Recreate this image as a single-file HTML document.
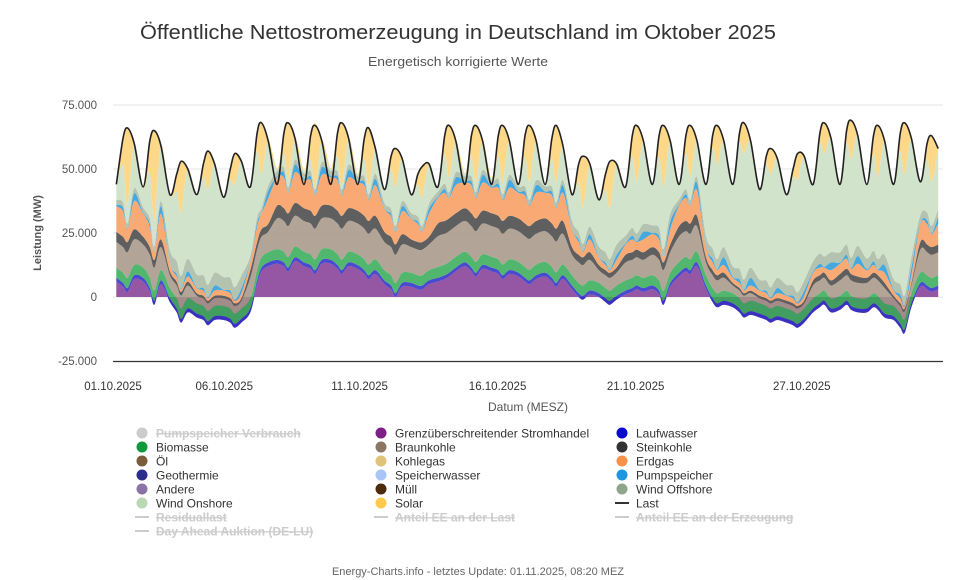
<!DOCTYPE html>
<html><head><meta charset="utf-8">
<style>
body{margin:0;background:#fff;font-family:"Liberation Sans",sans-serif;}
svg{display:block}
</style></head>
<body>
<svg id="chart" width="957" height="580" xmlns="http://www.w3.org/2000/svg" font-family="Liberation Sans, sans-serif">
<text x="458" y="39" text-anchor="middle" font-size="20" fill="#333" textLength="636" lengthAdjust="spacingAndGlyphs">Öffentliche Nettostromerzeugung in Deutschland im Oktober 2025</text>
<text x="458" y="66" text-anchor="middle" font-size="13" fill="#555" textLength="180" lengthAdjust="spacingAndGlyphs">Energetisch korrigierte Werte</text>
<g id="grid"></g>
<g id="areas"></g>
<g id="lines"></g>
<g id="axes"></g>
<text transform="translate(41,233) rotate(-90)" text-anchor="middle" font-size="11" font-weight="bold" fill="#555">Leistung (MW)</text>
<text x="528" y="411" text-anchor="middle" font-size="12" fill="#555">Datum (MESZ)</text>
<g id="legend"></g>
<text x="478" y="575" text-anchor="middle" font-size="11" fill="#666">Energy-Charts.info - letztes Update: 01.11.2025, 08:20 MEZ</text>
</svg>
<script>
// sample hours within each day (time data)
const sampleHours = [3, 9, 13, 19];
const yTicks = [75000, 50000, 25000, 0, -25000];
const yTickLabels = ["75.000", "50.000", "25.000", "0", "-25.000"];
const xTickLabels = ["01.10.2025", "06.10.2025", "11.10.2025", "16.10.2025", "21.10.2025", "27.10.2025"];
const xTickDays = [0.0, 4.15, 9.2, 14.35, 19.5, 25.7];
// GW values, 4 samples per day (3h, 9h, 13h, 19h)
const load = [
44,62,66,60, 43,61,65,59, 40,48,53,50, 40,52,57,52, 39,50,56,53,
43,64,68,61, 44,64,68,62, 44,63,67,61, 44,64,68,62, 44,62,66,58,
42,55,58,54, 40,48,51,52, 43,63,67,61, 44,63,67,61, 44,63,67,61,
44,63,67,61, 44,62,67,59, 40,52,55,52, 38,48,53,52, 43,63,67,61,
44,63,67,61, 44,63,67,61, 44,63,67,61, 44,64,68,61, 42,55,58,54,
40,50,56,55, 44,64,68,62, 44,65,69,63, 44,63,67,61, 44,64,68,62,
45,60,63,58];
const crossBorder = [
6,4,2,7, 6,2,-3,5, -2,-6,-10,-6, -8,-9,-11,-9, -9,-10,-12,-10,
-6,5,10,12, 13,12,10,14, 12,11,9,13, 13,11,9,12, 11,9,7,9,
5,3,0,4, 4,3,3,5, 6,7,8,10, 12,10,8,11, 10,9,7,9,
8,6,5,7, 8,6,4,7, 3,0,-1,1, 0,-2,-3,-1, 1,2,3,2,
3,1,-3,4, 8,10,9,12, 3,-2,-4,-3, -4,-6,-8,-7, -8,-9,-10,-9,
-10,-11,-12,-10, -6,-4,-3,-6, -5,-3,-5,-6, -6,-4,-5,-8, -9,-12,-14,-4,
4,3,2,3];
const erdgas = [
10,10,5,11, 9,8,3,10, 3,2,1,2, 2,2,1,2, 2,2,1,2,
3,6,6,10, 11,12,8,12, 11,12,8,12, 11,12,8,12, 11,12,8,12,
9,8,5,9, 8,7,4,9, 10,11,8,11, 10,11,8,11, 10,11,8,11,
10,11,8,11, 10,11,8,11, 7,5,2,5, 3,2,1,3, 4,5,3,5,
5,5,2,6, 8,9,7,10, 4,3,2,3, 2,2,1,2, 2,2,1,2,
2,2,1,2, 3,3,2,4, 4,4,2,5, 3,3,2,4, 2,2,1,3,
7,8,5,8];
const pumpspeicher = [
0.5,1.5,0.3,3, 0.5,1.2,0.3,3, 0.3,1,0.3,2, 0.3,1,0.3,2, 0.3,1,0.3,2,
0.5,1.5,0.3,3, 0.5,2,0.3,3, 0.5,1.5,0.3,3, 0.5,1.5,0.3,3, 0.5,1.5,0.3,2.5,
0.3,1,0.3,2, 0.3,1,0.3,2, 0.5,1.5,0.3,3, 0.5,1.5,0.3,3, 0.5,1.5,0.3,3,
0.5,1.5,0.3,3, 0.5,1.5,0.3,3, 0.3,1,0.3,2, 0.3,1,0.3,2, 0.5,1.5,0.3,3,
0.5,1.5,0.3,3, 0.5,1.5,0.3,3, 0.5,1.5,0.3,3, 0.5,1.5,0.3,3, 0.3,1,0.3,2,
0.3,1,0.3,2, 0.5,1.5,0.3,3, 0.5,1.5,0.3,3, 0.5,1.5,0.3,3, 0.5,1.5,0.3,3,
0.5,1.5,0.3,3];
const solar = [
0,10,30,0, 0,12,35,0, 0,7,20,0, 0,5,15,0, 0,4,12,0,
0,7,20,0, 0,8,22,0, 0,9,25,0, 0,9,25,0, 0,8,22,0,
0,5,15,0, 0,4,12,0, 0,7,20,0, 0,8,22,0, 0,8,22,0,
0,8,22,0, 0,8,22,0, 0,7,20,0, 0,6,18,0, 0,8,22,0,
0,8,24,0, 0,7,20,0, 0,5,15,0, 0,4,12,0, 0,3,10,0,
0,3,10,0, 0,4,12,0, 0,5,15,0, 0,7,20,0, 0,7,20,0,
0,6,18,0];
// daily values (GW)
const laufwasser = [1.5,1.5,1.5,1.5,1.5,1.5,1.5,1.5,1.5,1.5,1.5,1.5,1.5,1.5,1.5,1.5,1.5,1.5,1.5,1.5,1.5,1.5,1.5,1.5,1.5,1.5,1.5,1.5,1.5,1.5,1.5];
const biomasse = [4,4,4,4,4,4,4.2,4.2,4.2,4.2,4,4,4.2,4.2,4.2,4.2,4.2,4,4,4,4,4.2,4,4,4,4,4,4,4,4,4];
const braunkohle = [10,9,5,3,3,8,12,12,12,12,11,10,12,12,12,12,12,8,5,7,8,10,5,3,2,2,5,6,6,3,9];
const steinkohle = [4,3,1.5,1,1,3,5,5,5,5,4,3,5,5,5,5,5,3,2,3,3,4,2,1,1,1,2,2.5,2,1,3];
const windOffshore = [2,2,5,5,5,2,2,2,2,2,2,2,2,2,2,2,2,3,4,3,3,2,4,4,4,4,4,4,4,4,3];

const X0 = 113, DAYW = 26.8, Y0 = 297, PXPER = 64/25000;
function xScale(day){ return X0 + day*DAYW; }
function yScale(mw){ return Y0 - mw*PXPER; }
const NS = "http://www.w3.org/2000/svg";
function mk(tag, attrs, parent){ const e=document.createElementNS(NS,tag); for(const k in attrs) e.setAttribute(k,attrs[k]); parent.appendChild(e); return e; }

function smoothPath(pts, move){
  let d = (move ? "M" : "L") + pts[0][0].toFixed(1)+","+pts[0][1].toFixed(1);
  for(let i=0;i<pts.length-1;i++){
    const p0=pts[Math.max(0,i-1)], p1=pts[i], p2=pts[i+1], p3=pts[Math.min(pts.length-1,i+2)];
    const c1=[p1[0]+(p2[0]-p0[0])/6, p1[1]+(p2[1]-p0[1])/6];
    const c2=[p2[0]-(p3[0]-p1[0])/6, p2[1]-(p3[1]-p1[1])/6];
    d += "C"+c1[0].toFixed(1)+","+c1[1].toFixed(1)+" "+c2[0].toFixed(1)+","+c2[1].toFixed(1)+" "+p2[0].toFixed(1)+","+p2[1].toFixed(1);
  }
  return d;
}

const grid = document.getElementById('grid');
const axes = document.getElementById('axes');
yTicks.forEach((v,i)=>{
  const y = yScale(v);
  if(v > -25000){
    const gl = mk('line',{x1:113,x2:943,y1:y,y2:y,stroke:'#e6e6e6','stroke-width':1},grid);
    
    
  }
  const t = mk('text',{x:97,y:y+4,'text-anchor':'end','font-size':11.5,fill:'#555'},axes);
  t.textContent = yTickLabels[i];
  
  
});
const xl = mk('line',{x1:113,x2:943,y1:yScale(-25000)+0.5,y2:yScale(-25000)+0.5,stroke:'#333','stroke-width':1.2},axes);


xTickLabels.forEach((lab,i)=>{
  const t = mk('text',{x:xScale(xTickDays[i]),y:390,'text-anchor':'middle','font-size':11.5,fill:'#333'},axes);
  t.textContent = lab;
  
  
});

// build stacks
const N = load.length;
const times = [];
for(let i=0;i<N;i++) times.push(Math.floor(i/4) + sampleHours[i%4]/24);
const daily = a => times.map((t,i)=>a[Math.floor(i/4)]);
const layersDef = [
  {name:'laufwasser', vals:daily(laufwasser), color:'#2a2ac8'},
  {name:'biomasse', vals:daily(biomasse), color:'#33aa55'},
  {name:'braunkohle', vals:daily(braunkohle), color:'#a59585'},
  {name:'steinkohle', vals:daily(steinkohle), color:'#5f5f5f'},
  {name:'erdgas', vals:erdgas, color:'#f9aa74'},
  {name:'pumpspeicher', vals:pumpspeicher, color:'#45a9e0'},
  {name:'wind-offshore', vals:daily(windOffshore), color:'#b4c3b0'},
  {name:'wind-onshore', vals:null, color:'#d2e3cc'},
  {name:'solar', vals:solar, color:'#fdd889'}
];
// wind onshore derived as residual to load
const onshore = times.map((t,i)=>{
  let s = crossBorder[i];
  layersDef.forEach(l=>{ if(l.vals && l.name!=='solar') s += l.vals[i]; });
  return Math.max(1, load[i] - s - solar[i]);
});
layersDef[7].vals = onshore;

const areas = document.getElementById('areas');
const xs = times.map(xScale);
// cross-border area 0..cb
{
  const top = xs.map((x,i)=>[x, yScale(crossBorder[i]*1000)]);
  const d = "M"+xs[0].toFixed(1)+","+Y0+smoothPath(top,false)+"L"+xs[N-1].toFixed(1)+","+Y0+"Z";
  const p = mk('path',{d:d,fill:'#8a449a','fill-opacity':0.9},areas);
  
  
}
let base = crossBorder.slice();
layersDef.forEach(l=>{
  const top = base.map((b,i)=>b + l.vals[i]);
  const tp = xs.map((x,i)=>[x, yScale(top[i]*1000)]);
  const bp = xs.map((x,i)=>[x, yScale(base[i]*1000)]).reverse();
  const d = smoothPath(tp,true) + smoothPath(bp,false) + "Z";
  const p = mk('path',{d:d,fill:l.color,'fill-opacity':(l.name==='laufwasser'||l.name==='biomasse'||l.name==='braunkohle')?0.85:1},areas);
  
  
  base = top;
});
// load line
{
  const pts = xs.map((x,i)=>[x, yScale(load[i]*1000)]);
  const p = mk('path',{d:smoothPath(pts,true),fill:'none',stroke:'#222','stroke-width':1.6},document.getElementById('lines'));
  
  
}

// legend
const legendItems = [
  ['Pumpspeicher Verbrauch','#ccc','dot',true],['Grenzüberschreitender Stromhandel','#7d1f86','dot',false],['Laufwasser','#0a0acc','dot',false],
  ['Biomasse','#0e9a3c','dot',false],['Braunkohle','#8c7764','dot',false],['Steinkohle','#333','dot',false],
  ['Öl','#7b5c3c','dot',false],['Kohlegas','#e1c27a','dot',false],['Erdgas','#f8924a','dot',false],
  ['Geothermie','#2d2d8c','dot',false],['Speicherwasser','#a9c4f5','dot',false],['Pumpspeicher','#1b98e0','dot',false],
  ['Andere','#8b73a8','dot',false],['Müll','#4c2a0c','dot',false],['Wind Offshore','#8fa58c','dot',false],
  ['Wind Onshore','#b9d8b3','dot',false],['Solar','#ffc94d','dot',false],['Last','#333','line',false],
  ['Residuallast','#ccc','line',true],['Anteil EE an der Last','#ccc','line',true],['Anteil EE an der Erzeugung','#ccc','line',true],
  ['Day Ahead Auktion (DE-LU)','#ccc','line',true]
];
const colX = [142, 381, 622];
const lg = document.getElementById('legend');
legendItems.forEach((it,i)=>{
  const cx = colX[i%3], cy = 433 + Math.floor(i/3)*14;
  const g = mk('g',{},lg);
  
  
  if(it[2]==='dot') mk('circle',{cx:cx,cy:cy,r:5.5,fill:it[1]},g);
  else mk('line',{x1:cx-7,x2:cx+7,y1:cy,y2:cy,stroke:it[1],'stroke-width':2},g);
  const t = mk('text',{x:cx+14,y:cy+4.5,'font-size':12,fill:it[3]?'#ccc':'#333','font-weight':it[3]?'bold':'normal','text-decoration':it[3]?'line-through':'none'},g);
  t.textContent = it[0];
});
</script>
</body></html>
